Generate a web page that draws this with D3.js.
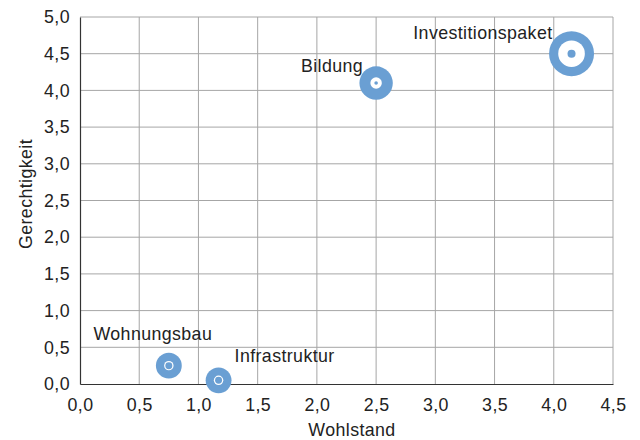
<!DOCTYPE html>
<html>
<head>
<meta charset="utf-8">
<script src="https://cdn.jsdelivr.net/npm/d3@7"></script>
<style>
  html, body { margin: 0; padding: 0; background: #fff; }
  svg { display: block; font-family: "Liberation Sans", Arial, Helvetica, sans-serif; }
  text { letter-spacing: 0.4px; }
</style>
</head>
<body>
<svg id="chart" width="640" height="440"></svg>
<script>
// Maßnahmen und ihre Bewertung
const massnahmen = ["Investitionspaket", "Bildung", "Wohnungsbau", "Infrastruktur"];
const wohlstand = [4.15, 2.5, 0.75, 1.17];
const gerechtigkeit = [4.5, 4.1, 0.25, 0.05];
// Volumen gesamt, innerer Anteil und Kern (gleiche Einheit)
const volumen = [100, 55, 33, 33];
const innen = [35, 6.5, 4.4, 4.4];
const kern = [3.2, 0.64, 2.4, 2.4];

const xTicks = [0, 0.5, 1, 1.5, 2, 2.5, 3, 3.5, 4, 4.5];
const yTicks = [0, 0.5, 1, 1.5, 2, 2.5, 3, 3.5, 4, 4.5, 5];

const de = d3.formatLocale({ decimal: ",", thousands: ".", grouping: [3], currency: ["", " €"] });
const fmt = de.format(".1f");

const margin = { top: 17, right: 27, bottom: 56, left: 80 };
const W = 640, H = 440;
const FS = 17.8;
const svg = d3.select("#chart");

const x = d3.scaleLinear().domain([0, 4.5]).range([margin.left, W - margin.right]);
const y = d3.scaleLinear().domain([0, 5]).range([H - margin.bottom, margin.top]);
const r = d3.scaleSqrt().domain([0, 100]).range([0, 22.5]);

const blue = "#6a9fd3";
const gridColor = "#a6a6a6";

// Gitterlinien
svg.append("g")
  .selectAll("line")
  .data(xTicks.filter(d => d > 0))
  .join("line")
  .attr("x1", d => x(d)).attr("x2", d => x(d))
  .attr("y1", y(0)).attr("y2", y(5))
  .attr("stroke", gridColor).attr("stroke-width", 1);

svg.append("g")
  .selectAll("line")
  .data(yTicks.filter(d => d > 0))
  .join("line")
  .attr("x1", x(0)).attr("x2", x(4.5))
  .attr("y1", d => y(d)).attr("y2", d => y(d))
  .attr("stroke", gridColor).attr("stroke-width", 1);

// Achsen
const xAxis = svg.append("g")
  .attr("transform", `translate(0,${y(0)})`)
  .call(d3.axisBottom(x).tickValues(xTicks).tickFormat(fmt).tickSize(0).tickPadding(14));
const yAxis = svg.append("g")
  .attr("transform", `translate(${x(0)},0)`)
  .call(d3.axisLeft(y).tickValues(yTicks).tickFormat(fmt).tickSize(0).tickPadding(10));

[xAxis, yAxis].forEach(g => {
  g.select(".domain").attr("stroke", "#333").attr("stroke-width", 1.2);
  g.selectAll("text").attr("font-size", FS).attr("fill", "#222")
    .attr("font-family", "'Liberation Sans', Arial, sans-serif");
});

// Achsentitel
svg.append("text")
  .attr("x", 352)
  .attr("y", 436)
  .attr("text-anchor", "middle")
  .attr("font-size", FS).attr("fill", "#222")
  .text("Wohlstand");

svg.append("text")
  .attr("transform", `translate(32,194) rotate(-90)`)
  .attr("text-anchor", "middle")
  .attr("font-size", FS).attr("fill", "#222")
  .text("Gerechtigkeit");

// Blasen
const rows = massnahmen.map((name, i) => ({
  name, wx: wohlstand[i], gy: gerechtigkeit[i],
  v: volumen[i], vi: innen[i], vk: kern[i]
}));

const bubble = svg.append("g")
  .selectAll("g")
  .data(rows)
  .join("g")
  .attr("transform", d => `translate(${x(d.wx)},${y(d.gy)})`);

bubble.append("circle").attr("r", d => r(d.v)).attr("fill", blue);
bubble.append("circle").attr("r", d => r(d.vi)).attr("fill", "#fff");
bubble.append("circle").attr("r", d => r(d.vk)).attr("fill", blue);

// Beschriftungen
const labelPlace = {
  "Investitionspaket": { anchor: "end", dx: -19, dy: -15 },
  "Bildung": { anchor: "end", dx: -13, dy: -11 },
  "Wohnungsbau": { anchor: "middle", dx: -16, dy: -26 },
  "Infrastruktur": { anchor: "start", dx: 16, dy: -18 }
};

svg.append("g")
  .selectAll("text")
  .data(rows)
  .join("text")
  .attr("x", d => x(d.wx) + labelPlace[d.name].dx)
  .attr("y", d => y(d.gy) + labelPlace[d.name].dy)
  .attr("text-anchor", d => labelPlace[d.name].anchor)
  .attr("font-size", FS).attr("fill", "#222")
  .text(d => d.name);
</script>
</body>
</html>
